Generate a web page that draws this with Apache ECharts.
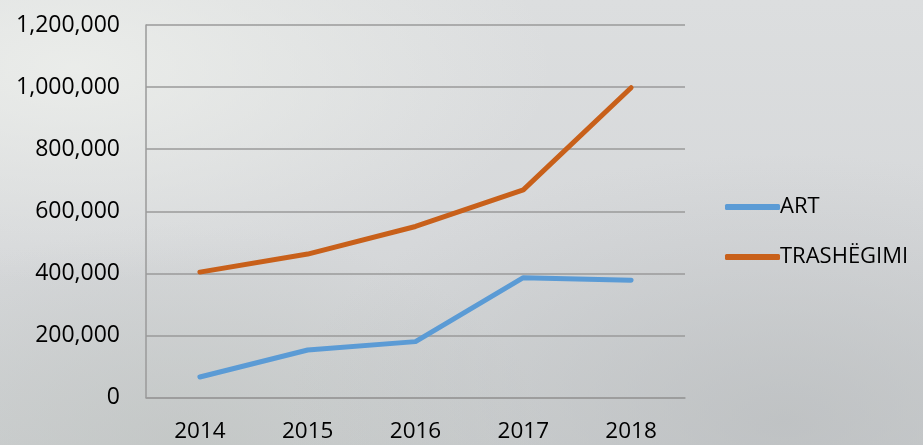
<!DOCTYPE html>
<html>
<head>
<meta charset="utf-8">
<script src="https://cdn.jsdelivr.net/npm/echarts@6/dist/echarts.min.js"></script>
<style>
  html, body { margin: 0; padding: 0; }
  body {
    width: 923px; height: 445px; overflow: hidden;
    background:
      radial-gradient(ellipse at 8% 15%, rgba(236,238,235,0.9) 0%, rgba(236,238,235,0) 40%),
      radial-gradient(ellipse at 85% 95%, rgba(185,188,190,0.7) 0%, rgba(185,188,190,0) 45%),
      radial-gradient(ellipse at 20% 100%, rgba(190,194,192,0.6) 0%, rgba(190,194,192,0) 35%),
      linear-gradient(180deg, #dcdedf 0%, #d6d8da 55%, #cdd0d1 100%);
  }
  #chart { width: 923px; height: 445px; }
</style>
</head>
<body>
<div id="chart"></div>
<script>
const categories = ['2014', '2015', '2016', '2017', '2018'];
const artValues = [66000, 153000, 180000, 386000, 378000];
const trashegimiValues = [404000, 462000, 551000, 669000, 998000];
const yTicks = [0, 200000, 400000, 600000, 800000, 1000000, 1200000];

const chart = echarts.init(document.getElementById('chart'), null, { renderer: 'canvas' });
const font = '"Open Sans", "Noto Sans", sans-serif';
chart.setOption({
  backgroundColor: 'transparent',
  animation: false,
  grid: { left: 146, right: 238, top: 25, bottom: 47.5, containLabel: false },
  legend: {
    orient: 'vertical',
    left: 720,
    top: 190,
    itemWidth: 55,
    itemHeight: 6,
    itemGap: 26,
    icon: 'roundRect',
    textStyle: { fontFamily: font, fontSize: 22, color: '#000', lineHeight: 24, padding: [0, 0, 0, -5] },
    data: ['ART', 'TRASHËGIMI']
  },
  xAxis: {
    type: 'category',
    data: categories,
    boundaryGap: true,
    axisLine: { show: true, lineStyle: { color: '#9a9a9a', width: 1.5 } },
    axisTick: { show: false },
    axisLabel: { fontFamily: font, fontSize: 22.5, color: '#000', margin: 23 }
  },
  yAxis: {
    type: 'value',
    min: 0,
    max: yTicks[yTicks.length - 1],
    interval: yTicks[1] - yTicks[0],
    axisLine: { show: true, lineStyle: { color: '#9a9a9a', width: 1.5 } },
    axisTick: { show: false },
    splitLine: { show: true, lineStyle: { color: '#9a9a9a', width: 1.5 } },
    axisLabel: {
      fontFamily: font, fontSize: 23, color: '#000', margin: 26,
      formatter: v => v.toLocaleString('en-US')
    }
  },
  series: [
    {
      name: 'ART', type: 'line', data: artValues,
      symbol: 'none', showSymbol: false,
      color: '#5b9bd5',
      lineStyle: { width: 5, color: '#5b9bd5', cap: 'round', join: 'round' }
    },
    {
      name: 'TRASHËGIMI', type: 'line', data: trashegimiValues,
      symbol: 'none', showSymbol: false,
      color: '#c8601a',
      lineStyle: { width: 5, color: '#c8601a', cap: 'round', join: 'round' }
    }
  ]
});
</script>
</body>
</html>
